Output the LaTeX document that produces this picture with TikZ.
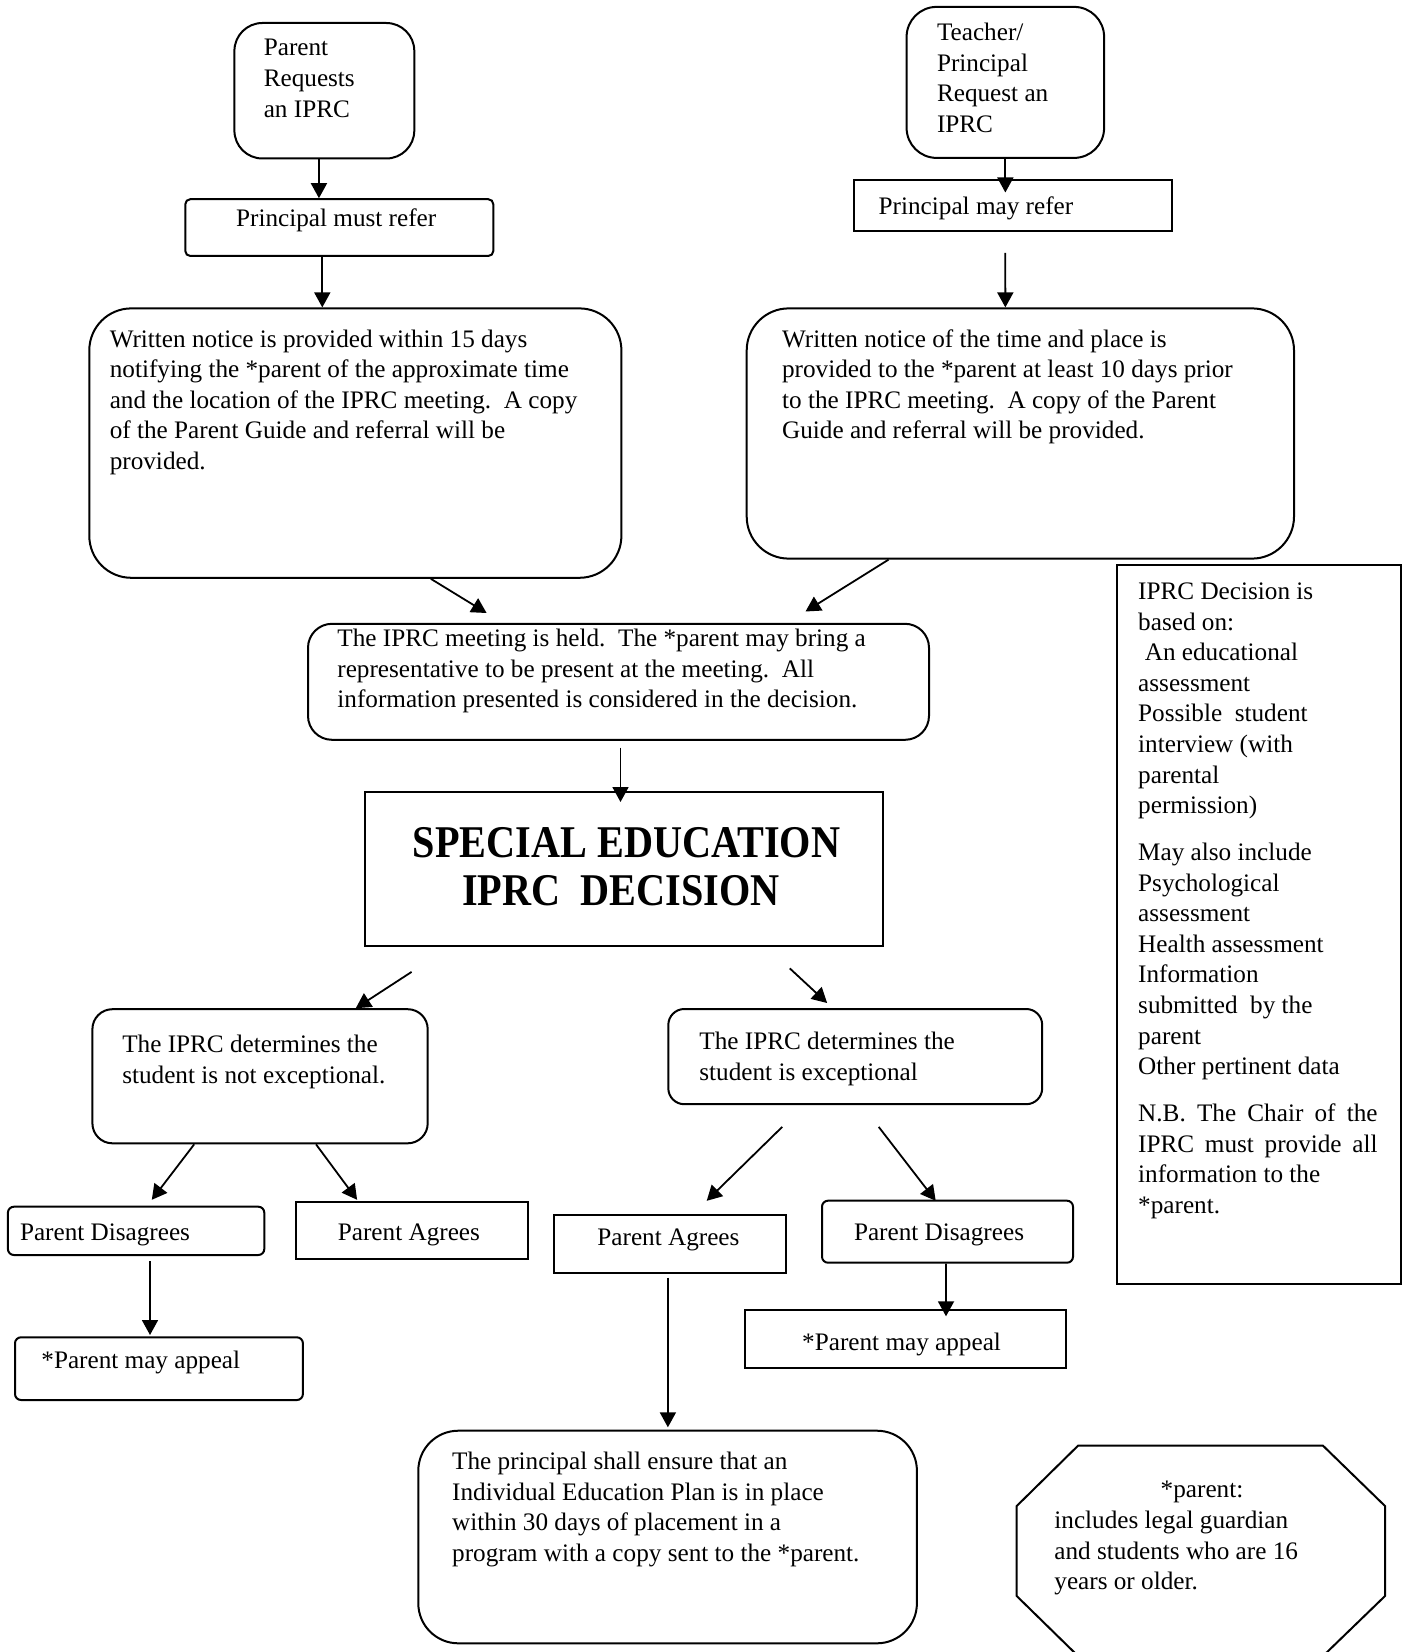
\documentclass[tikz,border=0pt]{standalone}
\usepackage{fontspec}
\setmainfont{Liberation Serif}
\usepackage{graphicx}
\usetikzlibrary{arrows.meta,fit,calc}
\newcommand{\bodyfont}{\fontsize{12.6pt}{15.3pt}\selectfont}
\newcommand{\titlefont}{\fontsize{22.7pt}{24pt}\selectfont\bfseries}
\tikzset{
  box/.style={draw, line width=1pt, inner sep=0pt},
  rbox/.style={box, rounded corners=#1},
  txt/.style={anchor=north west, inner sep=0pt, align=left, font=\bodyfont, yshift=10.71pt},
  ltxt/.style={anchor=base west, inner sep=0pt, font=\bodyfont},
  ttl/.style={anchor=base, inner sep=0pt, font=\titlefont},
  arr/.style={line width=0.9pt, -{Triangle[length=7.5pt,width=8pt]}},
}
\begin{document}
\begin{tikzpicture}[x=0.5pt,y=-0.5pt]
\path[use as bounding box, fill=white] (0,0) rectangle (1404,1652);

% boxes
\node[rbox=14pt, fit={(234.4,23) (414.3,158.5)}] (PR) {};
\node[rbox=2.5pt, fit={(185.3,199.2) (493.3,256)}] (PMR) {};
\node[rbox=21pt, fit={(89.3,308.4) (621.4,577.8)}] (WL) {};
\node[rbox=15pt, fit={(906.6,6.9) (1104.1,157.9)}] (TP) {};
\node[box, fit={(854,180) (1172.4,231)}] (PMY) {};
\node[rbox=21pt, fit={(746.7,308.4) (1294,558.6)}] (WR) {};
\node[rbox=12pt, fit={(308,623.8) (929,739.8)}] (MT) {};
\node[box, fit={(364.5,791.8) (883,945.5)}] (SE) {};
\node[rbox=10pt, fit={(92.4,1009.2) (427.7,1143.3)}] (NE) {};
\node[rbox=8pt, fit={(668.3,1009) (1042.2,1104.2)}] (EX) {};
\node[rbox=3pt, fit={(7.9,1206.7) (264.3,1255)}] (PDL) {};
\node[box, fit={(296.4,1201.7) (527.9,1259.3)}] (PAL) {};
\node[rbox=3pt, fit={(15,1337.3) (302.9,1400)}] (APL) {};
\node[box, fit={(554.3,1215) (785.7,1273.3)}] (PAR) {};
\node[rbox=3pt, fit={(822,1200.7) (1073,1262.7)}] (PDR) {};
\node[box, fit={(745.4,1310) (1065.7,1367.7)}] (APR) {};
\node[rbox=20pt, fit={(418.3,1430.7) (916.9,1643.3)}] (EN) {};
\node[box, fit={(1116.7,564.9) (1401.4,1284.3)}] (INFO) {};

% octagon
\draw[line width=1pt] (1078,1445.7) -- (1323,1445.7) -- (1385,1506) -- (1385,1596)
  -- (1323,1656) -- (1078,1656) -- (1016.7,1596) -- (1016.7,1506) -- cycle;

% texts
\node[txt] (tPR) at (263.4,55.6) {\strut Parent\\Requests\\an IPRC};
\node[ltxt] (tPMR) at (235.7,226.8) {Principal must refer};
\node[txt] (tWL) at (109.4,346.7) {\strut Written notice is provided within 15 days\\notifying the *parent of the approximate time\\and the location of the IPRC meeting.\ \ A copy\\of the Parent Guide and referral will be\\provided.};
\node[txt] (tTP) at (936.6,40.2) {\strut Teacher/\\Principal\\Request an\\IPRC};
\node[ltxt] (tPMY) at (878.3,214.6) {Principal may refer};
\node[txt] (tWR) at (781.7,346.7) {\strut Written notice of the time and place is\\provided to the *parent at least 10 days prior\\to the IPRC meeting.\ \ A copy of the Parent\\Guide and referral will be provided.};
\node[txt] (tMT) at (337,646) {\strut The IPRC meeting is held.\ \ The *parent may bring a\\representative to be present at the meeting.\ \ All\\information presented is considered in the decision.};
\node[ttl] (tSE1) at (626.6,857.3) {\scalebox{0.886}[1]{SPECIAL EDUCATION}};
\node[ttl] (tSE2) at (620.9,905) {\scalebox{0.886}[1]{IPRC\ \ DECISION}};
\node[txt] (tNE) at (121.9,1052) {\strut The IPRC determines the\\student is not exceptional.};
\node[txt] (tEX) at (699,1049) {\strut The IPRC determines the\\student is exceptional};
\node[ltxt] (tPDL) at (19.6,1240) {Parent Disagrees};
\node[ltxt] (tPAL) at (337.5,1240) {Parent Agrees};
\node[ltxt] (tAPL) at (41,1368.3) {*Parent may appeal};
\node[ltxt] (tPAR) at (597,1245) {Parent Agrees};
\node[ltxt] (tPDR) at (853.6,1240) {Parent Disagrees};
\node[ltxt] (tAPR) at (801.8,1350) {*Parent may appeal};
\node[txt] (tEN) at (451.8,1469.3) {\strut The principal shall ensure that an\\Individual Education Plan is in place\\within 30 days of placement in a\\program with a copy sent to the *parent.};
\node[txt] (tINFO) at (1137.8,599) {\strut IPRC Decision is\\based on:\\\hspace*{3.3pt}An educational\\assessment\\Possible\ \ student\\interview (with\\parental\\permission)\\[8.15pt]
May also include\\Psychological\\assessment\\Health assessment\\Information\\submitted\ \ by the\\parent\\Other pertinent data\\[8.15pt]
\makebox[119.7pt][s]{N.B. The Chair of the}\\\makebox[119.7pt][s]{IPRC must provide all}\\information to the\\*parent.};
\node[anchor=base, inner sep=0pt, font=\bodyfont] (tOC1) at (1202,1497.3) {*parent:};
\node[txt] (tOC2) at (1054,1528) {\strut includes legal guardian\\and students who are 16\\years or older.};

% arrows
\draw[arr] ([xshift=-2.7pt]PR.south) -- ([xshift=-2.7pt]PR.south |- PMR.north);
\draw[arr] ([xshift=-8.5pt]PMR.south) -- ([xshift=-8.5pt]PMR.south |- WL.north);
\draw[arr] ($(WL.south)+(75.45,0)$) -- ($(MT.north)+(-131.9,-9.8)$);
\draw[arr] (TP.south) -- ($(PMY.north -| TP.south)+(0,13.5)$);
\draw[arr] ($(PMY.south)+(-7.9,21)$) -- ($(WR.north)+(-15,0)$);
\draw[arr] ($(WR.south)+(-131.75,0)$) -- ($(MT.north)+(187,-11.3)$);
\draw[arr] ($(MT.south)+(2,6.9)$) -- ($(SE.north)+(-3.25,11.2)$);
\draw[arr] ($(SE.south)+(-212.15,25.4)$) -- ($(NE.north)+(95.75,0)$);
\draw[arr] ($(SE.south)+(166.05,21.9)$) -- ($(EX.north)+(-28.15,-5)$);
\draw[arr] ($(NE.south)+(-65.85,0)$) -- ($(PDL.north)+(15.7,-5.9)$);
\draw[arr] ($(NE.south)+(55.95,0)$) -- ($(PAL.north)+(-55.05,-0.9)$);
\draw[arr] ($(PDL.south)+(13.9,5)$) -- ($(APL.north)+(-8.95,-1.3)$);
\draw[arr] ($(EX.south)+(-73.05,21.7)$) -- ($(PAR.north)+(36.7,-13.2)$);
\draw[arr] ($(EX.south)+(23.45,21.7)$) -- ($(PDR.north)+(-11.8,1.1)$);
\draw[arr] ($(PDR.south)+(-1.5,0)$) -- ($(APR.north)+(40.45,7.3)$);
\draw[arr] ($(PAR.south)+(-2.1,3.4)$) -- ($(EN.north)+(0.3,-2.4)$);
\end{tikzpicture}
\end{document}
